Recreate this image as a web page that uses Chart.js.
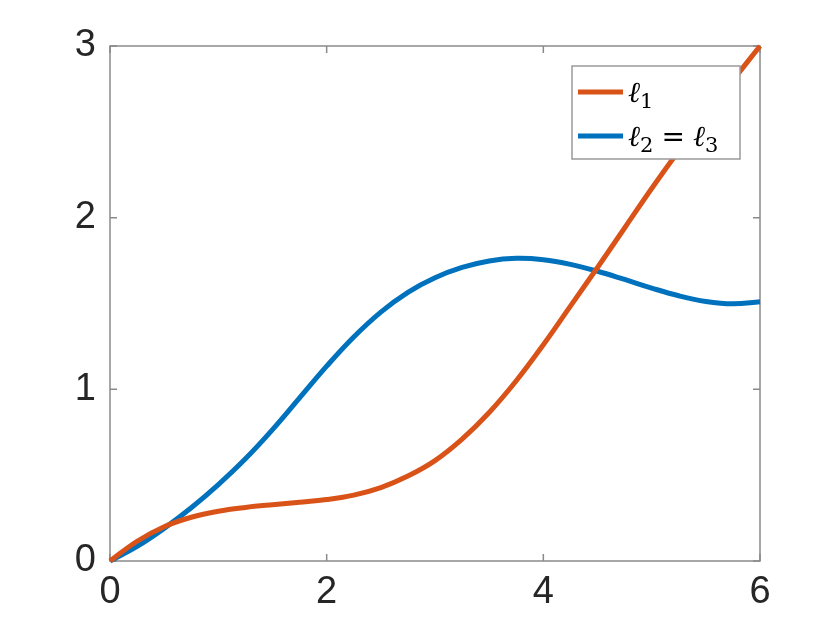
<!DOCTYPE html>
<html>
<head>
<meta charset="utf-8">
<script src="https://cdn.jsdelivr.net/npm/chart.js@4"></script>
<style>
  html, body { margin: 0; padding: 0; background: #fff; }
  #wrap { width: 840px; height: 630px; }
</style>
</head>
<body>
<div id="wrap"><canvas id="myChart"></canvas></div>
<script>
const xValues = [0, 0.25, 0.5, 0.75, 1, 1.25, 1.5, 1.75, 2, 2.25, 2.5, 2.75, 3,
  3.25, 3.5, 3.75, 4, 4.25, 4.5, 4.75, 5, 5.25, 5.5, 5.75, 6];
const ell1Values = [0, 0.115, 0.2, 0.255, 0.29, 0.312, 0.328, 0.342, 0.358, 0.384, 0.428, 0.495, 0.585,
  0.71, 0.865, 1.05, 1.26, 1.485, 1.71, 1.94, 2.17, 2.39, 2.6, 2.8, 3.0];
const ell23Values = [0, 0.085, 0.19, 0.31, 0.445, 0.595, 0.765, 0.95, 1.135, 1.305, 1.45, 1.565, 1.65,
  1.71, 1.748, 1.763, 1.755, 1.728, 1.688, 1.64, 1.59, 1.545, 1.512, 1.498, 1.51];
const xTicks = [0, 2, 4, 6];
const yTicks = [0, 1, 2, 3];

const orange = "#D95319";
const blue = "#0072BD";
const axisColor = "#8a8a8a";

function toPoints(ys) {
  return xValues.map((x, i) => ({ x: x, y: ys[i] }));
}

// box, inward ticks on all four sides (matlab style)
const boxPlugin = {
  id: "box",
  beforeDatasetsDraw(chart) {
    const ctx = chart.ctx;
    const a = chart.chartArea;
    const xs = chart.scales.x;
    const ys = chart.scales.y;
    const len = 7;
    ctx.save();
    ctx.strokeStyle = axisColor;
    ctx.lineWidth = 1.5;
    ctx.strokeRect(a.left, a.top, a.right - a.left, a.bottom - a.top);
    ctx.beginPath();
    xTicks.forEach(v => {
      const px = xs.getPixelForValue(v);
      ctx.moveTo(px, a.bottom); ctx.lineTo(px, a.bottom - len);
      ctx.moveTo(px, a.top); ctx.lineTo(px, a.top + len);
    });
    yTicks.forEach(v => {
      const py = ys.getPixelForValue(v);
      ctx.moveTo(a.left, py); ctx.lineTo(a.left + len, py);
      ctx.moveTo(a.right, py); ctx.lineTo(a.right - len, py);
    });
    ctx.stroke();
    ctx.restore();
  }
};

// legend box with ell symbols and subscripts
const legendPlugin = {
  id: "ellLegend",
  afterDraw(chart) {
    const ctx = chart.ctx;
    const bx = 572, by = 66, bw = 168, bh = 93;
    ctx.save();
    ctx.fillStyle = "#fff";
    ctx.fillRect(bx, by, bw, bh);
    ctx.strokeStyle = "#9a9a9a";
    ctx.lineWidth = 1.5;
    ctx.strokeRect(bx, by, bw, bh);

    const rows = [
      { color: orange, y: 92, parts: [["ℓ", "1"]] },
      { color: blue, y: 136, parts: [["ℓ", "2"], ["=", null], ["ℓ", "3"]] }
    ];
    const big = "italic 29px 'DejaVu Serif', serif";
    const eq = "28px 'DejaVu Serif', serif";
    const small = "21px 'DejaVu Serif', serif";
    rows.forEach(r => {
      ctx.strokeStyle = r.color;
      ctx.lineWidth = 5;
      ctx.beginPath();
      ctx.moveTo(578, r.y);
      ctx.lineTo(623, r.y);
      ctx.stroke();
      let x = 628;
      const base = r.y + 10;
      ctx.fillStyle = "#000";
      ctx.textBaseline = "alphabetic";
      r.parts.forEach(p => {
        if (p[1] === null) {
          ctx.font = eq;
          x += 8;
          ctx.fillText(p[0], x, base);
          x += ctx.measureText(p[0]).width + 8;
          return;
        }
        ctx.font = big;
        ctx.fillText(p[0], x, base);
        x += ctx.measureText(p[0]).width;
        ctx.font = small;
        ctx.fillText(p[1], x, base + 6);
        x += ctx.measureText(p[1]).width;
      });
    });
    ctx.restore();
  }
};

const ctx = document.getElementById("myChart").getContext("2d");

const myChart = new Chart(ctx, {
  type: "line",
  data: {
    datasets: [
      {
        label: "l1",
        data: toPoints(ell1Values),
        borderColor: orange,
        borderWidth: 5,
        pointRadius: 0,
        tension: 0.4,
        clip: 6
      },
      {
        label: "l2 = l3",
        data: toPoints(ell23Values),
        borderColor: blue,
        borderWidth: 5,
        pointRadius: 0,
        tension: 0.4,
        clip: 6
      }
    ]
  },
  options: {
    responsive: true,
    maintainAspectRatio: false,
    animation: false,
    layout: { padding: { top: 46, right: 80, left: 0, bottom: 0 } },
    plugins: {
      legend: { display: false },
      tooltip: { enabled: false }
    },
    scales: {
      x: {
        type: "linear",
        min: 0,
        max: 6,
        afterBuildTicks: s => { s.ticks = xTicks.map(v => ({ value: v })); },
        afterFit: s => { s.height = 69; },
        grid: { display: false, drawTicks: false },
        border: { display: false },
        ticks: {
          padding: 9,
          color: "#262626",
          font: { family: "'Liberation Sans', Arial, sans-serif", size: 38 }
        }
      },
      y: {
        type: "linear",
        min: 0,
        max: 3,
        afterBuildTicks: s => { s.ticks = yTicks.map(v => ({ value: v })); },
        afterFit: s => { s.width = 110; },
        grid: { display: false, drawTicks: false },
        border: { display: false },
        ticks: {
          padding: 14,
          color: "#262626",
          font: { family: "'Liberation Sans', Arial, sans-serif", size: 38 }
        }
      }
    }
  },
  plugins: [boxPlugin, legendPlugin]
});
</script>
</body>
</html>
